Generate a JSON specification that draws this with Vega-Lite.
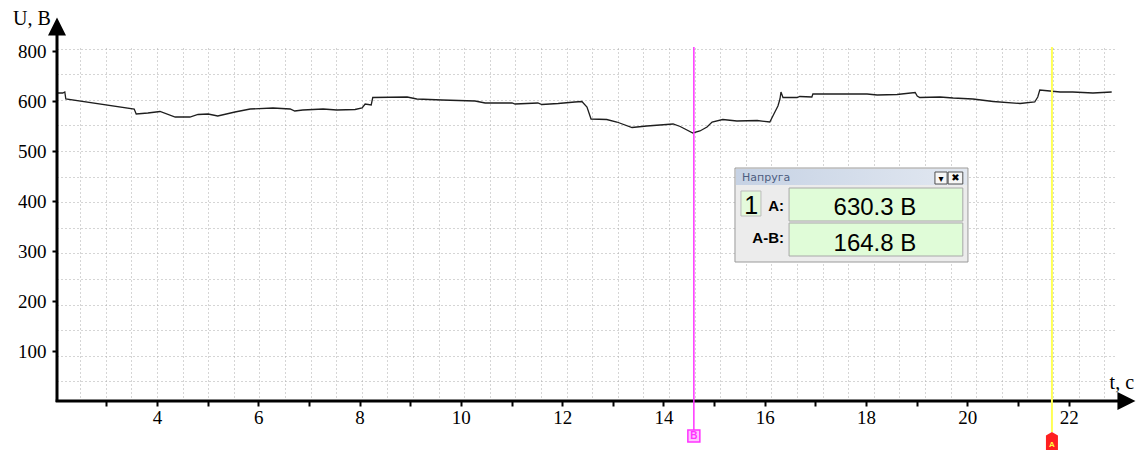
{
  "$schema": "https://vega.github.io/schema/vega-lite/v6.json",
  "width": 1058,
  "height": 353,
  "autosize": {"type": "none"},
  "padding": {"left": 57, "top": 48, "right": 22, "bottom": 49},
  "background": "white",
  "config": {"view": {"stroke": null}, "axis": {"labelFont": "Liberation Serif", "labelColor": "black"}},
  "resolve": {"axis": {"x": "independent", "y": "independent"}},
  "data": {"values": [
    {"t": 2.026, "v": 616}, {"t": 2.14, "v": 616}, {"t": 2.18, "v": 618}, {"t": 2.2, "v": 604},
    {"t": 3.55, "v": 584}, {"t": 3.59, "v": 574}, {"t": 3.82, "v": 576}, {"t": 4.06, "v": 579},
    {"t": 4.36, "v": 568}, {"t": 4.65, "v": 568}, {"t": 4.81, "v": 573}, {"t": 5.01, "v": 574},
    {"t": 5.2, "v": 570}, {"t": 5.54, "v": 578}, {"t": 5.84, "v": 584}, {"t": 6.29, "v": 586},
    {"t": 6.63, "v": 584}, {"t": 6.72, "v": 580}, {"t": 6.88, "v": 582}, {"t": 7.28, "v": 584},
    {"t": 7.55, "v": 582}, {"t": 7.91, "v": 583}, {"t": 8.05, "v": 586}, {"t": 8.11, "v": 594},
    {"t": 8.23, "v": 592}, {"t": 8.26, "v": 607}, {"t": 8.94, "v": 608}, {"t": 9.13, "v": 604},
    {"t": 9.63, "v": 602}, {"t": 10.28, "v": 600}, {"t": 10.48, "v": 596}, {"t": 11.01, "v": 596},
    {"t": 11.07, "v": 594}, {"t": 11.52, "v": 596}, {"t": 11.6, "v": 593}, {"t": 11.92, "v": 595},
    {"t": 12.25, "v": 598}, {"t": 12.39, "v": 599}, {"t": 12.49, "v": 588}, {"t": 12.57, "v": 564},
    {"t": 12.88, "v": 563}, {"t": 13.08, "v": 558}, {"t": 13.38, "v": 547}, {"t": 13.67, "v": 550},
    {"t": 14.19, "v": 554}, {"t": 14.33, "v": 549}, {"t": 14.58, "v": 536}, {"t": 14.72, "v": 540},
    {"t": 14.86, "v": 548}, {"t": 14.96, "v": 558}, {"t": 15.17, "v": 563}, {"t": 15.45, "v": 560},
    {"t": 15.85, "v": 561}, {"t": 16.1, "v": 558}, {"t": 16.2, "v": 578}, {"t": 16.26, "v": 590},
    {"t": 16.3, "v": 604}, {"t": 16.32, "v": 618}, {"t": 16.36, "v": 607}, {"t": 16.64, "v": 607},
    {"t": 16.69, "v": 609}, {"t": 16.93, "v": 608}, {"t": 16.95, "v": 614}, {"t": 18.02, "v": 614},
    {"t": 18.22, "v": 612}, {"t": 18.61, "v": 613}, {"t": 18.97, "v": 617}, {"t": 19.01, "v": 610},
    {"t": 19.06, "v": 607}, {"t": 19.46, "v": 608}, {"t": 19.72, "v": 606}, {"t": 20.11, "v": 604},
    {"t": 20.51, "v": 599}, {"t": 21.04, "v": 595}, {"t": 21.33, "v": 598}, {"t": 21.39, "v": 608},
    {"t": 21.43, "v": 622}, {"t": 21.63, "v": 620}, {"t": 21.83, "v": 618}, {"t": 22.08, "v": 618},
    {"t": 22.48, "v": 616}, {"t": 22.85, "v": 618}
  ]},
  "layer": [
    {
      "mark": {"type": "line", "opacity": 0},
      "encoding": {
        "x": {"field": "t", "type": "quantitative", "scale": {"domain": [2.026, 22.915], "nice": false, "zero": false},
          "axis": {"orient": "bottom", "title": null, "labels": false, "ticks": false, "domain": false, "grid": true,
            "gridColor": "#aaaaaa", "gridDash": [1, 3], "gridWidth": 1,
            "values": [2.484, 2.989, 3.495, 4.0, 4.505, 5.011, 5.516, 6.022, 6.527, 7.033, 7.538, 8.043, 8.549, 9.054, 9.56, 10.065, 10.571, 11.076, 11.581, 12.087, 12.592, 13.098, 13.603, 14.109, 14.614, 15.119, 15.625, 16.13, 16.636, 17.141, 17.647, 18.152, 18.657, 19.163, 19.668, 20.174, 20.679, 21.185, 21.69, 22.195, 22.701]}},
        "y": {"field": "v", "type": "quantitative", "scale": {"domain": [0, 706], "nice": false, "zero": false},
          "axis": {"orient": "left", "title": null, "labels": false, "ticks": false, "domain": false, "grid": true,
            "gridColor": "#aaaaaa", "gridDash": [1, 3], "gridWidth": 1,
            "values": [-12, 39.2, 90.4, 141.6, 192.8, 244, 295.2, 346.4, 397.6, 448.8, 500, 551.2, 602.4, 653.6, 704.8]}}
      }
    },
    {
      "mark": {"type": "line", "color": "#1e1e1e", "strokeWidth": 1.3},
      "encoding": {
        "x": {"field": "t", "type": "quantitative",
          "axis": {"orient": "bottom", "title": null, "domain": false, "grid": false,
            "values": [3, 4, 5, 6, 7, 8, 9, 10, 11, 12, 13, 14, 15, 16, 17, 18, 19, 20, 21, 22],
            "labelExpr": "datum.value % 2 === 0 ? datum.label : ''",
            "tickSize": 5, "tickWidth": 2, "tickColor": "black",
            "labelFont": "Liberation Serif", "labelFontSize": 19, "labelColor": "black", "labelPadding": 2}},
        "y": {"field": "v", "type": "quantitative",
          "axis": {"orient": "left", "title": null, "domain": false, "grid": false,
            "values": [100, 200, 300, 400, 500, 600, 700],
            "labelExpr": "datum.value === 700 ? '800' : datum.label",
            "tickSize": 5, "tickWidth": 2, "tickColor": "black",
            "labelFont": "Liberation Serif", "labelFontSize": 19, "labelColor": "black", "labelPadding": 6}}
      }
    },
    {
      "data": {"values": [{}]},
      "mark": {"type": "rule", "color": "black", "strokeWidth": 3},
      "encoding": {
        "x": {"datum": 2.0, "axis": null}, "x2": {"datum": 23.0},
        "y": {"datum": 0, "axis": null}
      }
    },
    {
      "data": {"values": [{}]},
      "mark": {"type": "rule", "color": "black", "strokeWidth": 3},
      "encoding": {
        "x": {"datum": 2.026, "axis": null},
        "y": {"datum": -2, "axis": null}, "y2": {"datum": 738}
      }
    },
    {
      "data": {"values": [{}]},
      "mark": {"type": "point", "shape": "M0,-1L1,1L-1,1Z", "size": 324, "filled": true, "color": "black", "opacity": 1},
      "encoding": {"x": {"datum": 2.026, "axis": null}, "y": {"datum": 749, "axis": null}}
    },
    {
      "data": {"values": [{}]},
      "mark": {"type": "point", "shape": "M1,0L-1,-1L-1,1Z", "size": 324, "filled": true, "color": "black", "opacity": 1},
      "encoding": {"x": {"datum": 23.141, "axis": null}, "y": {"datum": 0, "axis": null}}
    },
    {
      "data": {"values": [{}]},
      "mark": {"type": "text", "text": "U, B", "font": "Liberation Serif", "fontSize": 20, "align": "center", "baseline": "alphabetic", "color": "black"},
      "encoding": {"x": {"datum": 1.532, "axis": null}, "y": {"datum": 752, "axis": null}}
    },
    {
      "data": {"values": [{}]},
      "mark": {"type": "text", "text": "t, c", "font": "Liberation Serif", "fontSize": 20, "align": "center", "baseline": "alphabetic", "color": "black"},
      "encoding": {"x": {"datum": 23.05, "axis": null}, "y": {"datum": 24, "axis": null}}
    },
    {
      "data": {"values": [{}]},
      "mark": {"type": "rule", "color": "#ff33ff", "strokeWidth": 1.5},
      "encoding": {"x": {"datum": 14.6, "axis": null}, "y": {"datum": 708, "axis": null}, "y2": {"datum": -58}}
    },
    {
      "data": {"values": [{}]},
      "mark": {"type": "rule", "color": "#ffff55", "strokeWidth": 2},
      "encoding": {"x": {"datum": 21.67, "axis": null}, "y": {"datum": 708, "axis": null}, "y2": {"datum": -62}}
    },
    {
      "data": {"values": [{}]},
      "mark": {"type": "point", "shape": "square", "size": 144, "filled": true, "fill": "#ffc4ff", "stroke": "#ff33ff", "strokeWidth": 1.5, "opacity": 1},
      "encoding": {"x": {"datum": 14.6, "axis": null}, "y": {"datum": -70, "axis": null}}
    },
    {
      "data": {"values": [{}]},
      "mark": {"type": "text", "text": "B", "font": "Liberation Sans", "fontSize": 10, "fontWeight": "bold", "align": "center", "baseline": "middle", "color": "#ff33ff"},
      "encoding": {"x": {"datum": 14.6, "axis": null}, "y": {"datum": -70, "axis": null}}
    },
    {
      "data": {"values": [{}]},
      "mark": {"type": "point", "shape": "M0,-1.5L1,-0.9L1,1.5L-1,1.5L-1,-0.9Z", "size": 144, "filled": true, "color": "#ff2020", "opacity": 1},
      "encoding": {"x": {"datum": 21.67, "axis": null}, "y": {"datum": -80, "axis": null}}
    },
    {
      "data": {"values": [{}]},
      "mark": {"type": "text", "text": "A", "font": "Liberation Sans", "fontSize": 8, "fontWeight": "bold", "align": "center", "baseline": "middle", "color": "#ffff40"},
      "encoding": {"x": {"datum": 21.67, "axis": null}, "y": {"datum": -88, "axis": null}}
    },
    {
      "data": {"values": [{}]},
      "mark": {"type": "rect", "fill": "#ececec", "stroke": "#9a9a9a", "strokeWidth": 1},
      "encoding": {"x": {"datum": 15.412, "axis": null}, "x2": {"datum": 20.012}, "y": {"datum": 278, "axis": null}, "y2": {"datum": 466}}
    },
    {
      "data": {"values": [{}]},
      "mark": {"type": "rect", "fill": {"gradient": "linear", "x1": 0, "y1": 0, "x2": 1, "y2": 0, "stops": [{"offset": 0, "color": "#c6d2e4"}, {"offset": 1, "color": "#e2e8f1"}]}},
      "encoding": {"x": {"datum": 15.43, "axis": null}, "x2": {"datum": 19.99}, "y": {"datum": 432, "axis": null}, "y2": {"datum": 464}}
    },
    {
      "data": {"values": [{}]},
      "mark": {"type": "text", "text": "Напруга", "font": "DejaVu Sans", "fontSize": 11, "align": "left", "baseline": "middle", "color": "#4d5d80"},
      "encoding": {"x": {"datum": 15.55, "axis": null}, "y": {"datum": 447, "axis": null}}
    },
    {
      "data": {"values": [{}]},
      "mark": {"type": "rect", "fill": "#f6f6f6", "stroke": "#505050", "strokeWidth": 1},
      "encoding": {"x": {"datum": 19.36, "axis": null}, "x2": {"datum": 19.6}, "y": {"datum": 434, "axis": null}, "y2": {"datum": 458}}
    },
    {
      "data": {"values": [{}]},
      "mark": {"type": "rect", "fill": "#f6f6f6", "stroke": "#505050", "strokeWidth": 1},
      "encoding": {"x": {"datum": 19.62, "axis": null}, "x2": {"datum": 19.91}, "y": {"datum": 434, "axis": null}, "y2": {"datum": 458}}
    },
    {
      "data": {"values": [{}]},
      "mark": {"type": "text", "text": "▾", "font": "DejaVu Sans", "fontSize": 10, "align": "center", "baseline": "middle", "color": "black"},
      "encoding": {"x": {"datum": 19.48, "axis": null}, "y": {"datum": 444, "axis": null}}
    },
    {
      "data": {"values": [{}]},
      "mark": {"type": "text", "text": "✖", "font": "DejaVu Sans", "fontSize": 10, "align": "center", "baseline": "middle", "color": "black"},
      "encoding": {"x": {"datum": 19.765, "axis": null}, "y": {"datum": 446, "axis": null}}
    },
    {
      "data": {"values": [{}]},
      "mark": {"type": "rect", "fill": "#e4fadc", "stroke": "#bcbcbc", "strokeWidth": 1},
      "encoding": {"x": {"datum": 15.53, "axis": null}, "x2": {"datum": 15.925}, "y": {"datum": 370, "axis": null}, "y2": {"datum": 420}}
    },
    {
      "data": {"values": [{}]},
      "mark": {"type": "text", "text": "1", "font": "Liberation Sans", "fontSize": 25, "align": "center", "baseline": "alphabetic", "color": "black"},
      "encoding": {"x": {"datum": 15.73, "axis": null}, "y": {"datum": 374, "axis": null}}
    },
    {
      "data": {"values": [{}]},
      "mark": {"type": "text", "text": "A:", "font": "Liberation Sans", "fontSize": 15, "fontWeight": "bold", "align": "right", "baseline": "alphabetic", "color": "black"},
      "encoding": {"x": {"datum": 16.38, "axis": null}, "y": {"datum": 380, "axis": null}}
    },
    {
      "data": {"values": [{}]},
      "mark": {"type": "text", "text": "A-B:", "font": "Liberation Sans", "fontSize": 15, "fontWeight": "bold", "align": "right", "baseline": "alphabetic", "color": "black"},
      "encoding": {"x": {"datum": 16.38, "axis": null}, "y": {"datum": 316, "axis": null}}
    },
    {
      "data": {"values": [{}]},
      "mark": {"type": "rect", "fill": "#e0fcd8", "stroke": "#a8a8a8", "strokeWidth": 1},
      "encoding": {"x": {"datum": 16.48, "axis": null}, "x2": {"datum": 19.91}, "y": {"datum": 360, "axis": null}, "y2": {"datum": 426}}
    },
    {
      "data": {"values": [{}]},
      "mark": {"type": "rect", "fill": "#e0fcd8", "stroke": "#a8a8a8", "strokeWidth": 1},
      "encoding": {"x": {"datum": 16.48, "axis": null}, "x2": {"datum": 19.91}, "y": {"datum": 290, "axis": null}, "y2": {"datum": 356}}
    },
    {
      "data": {"values": [{}]},
      "mark": {"type": "text", "text": "630.3 В", "font": "Liberation Sans", "fontSize": 24, "align": "center", "baseline": "alphabetic", "color": "black"},
      "encoding": {"x": {"datum": 18.175, "axis": null}, "y": {"datum": 372, "axis": null}}
    },
    {
      "data": {"values": [{}]},
      "mark": {"type": "text", "text": "164.8 В", "font": "Liberation Sans", "fontSize": 24, "align": "center", "baseline": "alphabetic", "color": "black"},
      "encoding": {"x": {"datum": 18.175, "axis": null}, "y": {"datum": 300, "axis": null}}
    }
  ]
}
